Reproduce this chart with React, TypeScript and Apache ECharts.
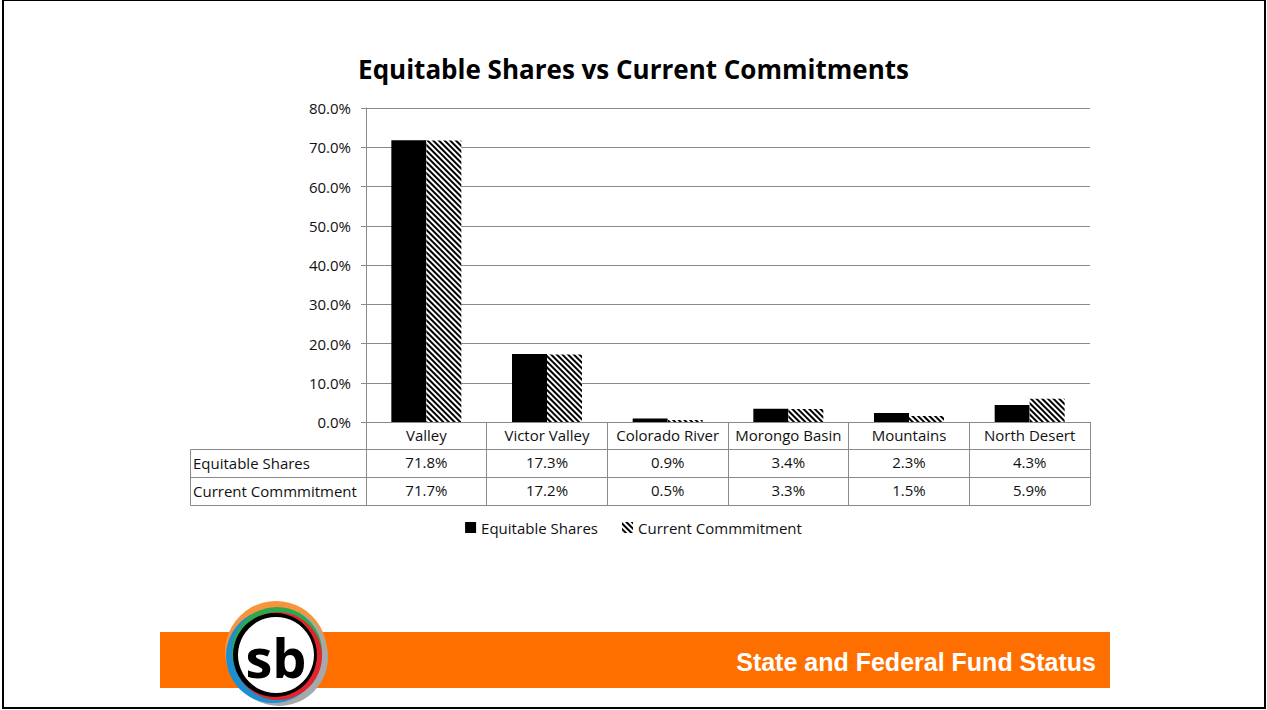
import React, { useEffect, useRef } from "react";
import * as echarts from "echarts";

const categories = ["Valley", "Victor Valley", "Colorado River", "Morongo Basin", "Mountains", "North Desert"];
const equitableShares = [71.8, 17.3, 0.9, 3.4, 2.3, 4.3];
const currentCommitment = [71.7, 17.2, 0.5, 3.3, 1.5, 5.9];
const seriesNames = ["Equitable Shares", "Current Commmitment"];
const yTicks = { min: 0, max: 80, interval: 10 };
const chartTitle = "Equitable Shares vs Current Commitments";
const footerText = "State and Federal Fund Status";

const FONT = "'Open Sans', 'Noto Sans', sans-serif";
const GRAY = "#8a8a8a";
const FS = 15;

export default function App() {
  const ref = useRef<HTMLDivElement>(null);
  useEffect(() => {
    if (!ref.current) return;
    const chart = echarts.init(ref.current, undefined, { renderer: "svg" });
    const fmt = (v: number) => v.toFixed(1) + "%";
    const tableAxis = (offset: number, labels: string[] | null) => ({
      type: "category",
      data: categories.map((c, i) => (labels ? labels[i] : c)),
      position: "bottom",
      offset,
      axisLine: { show: true, lineStyle: { color: GRAY, width: 1 } },
      axisTick: labels === null ? { show: false } : { show: true, length: 28, interval: 0, lineStyle: { color: GRAY } },
      axisLabel: labels === null ? { show: false } : { show: true, interval: 0, margin: 5, fontSize: FS, color: "#111", fontFamily: FONT },
      splitLine: { show: false },
    });
    const hatch = {
      symbol: "rect",
      symbolSize: 1,
      dashArrayX: [1, 0],
      dashArrayY: [2, 2],
      rotation: Math.PI / 4,
      color: "#000",
      backgroundColor: "#fff",
    };
    chart.setOption({
      animation: false,
      backgroundColor: "#fff",
      title: {
        text: chartTitle,
        left: "center",
        top: 51,
        textStyle: { fontSize: 26, fontWeight: "bold", color: "#000", fontFamily: FONT },
      },
      legend: {
        top: 515,
        left: "center",
        itemWidth: 11,
        itemHeight: 11,
        itemGap: 24,
        icon: "rect",
        textStyle: { fontSize: FS, color: "#111", fontFamily: FONT },
        data: seriesNames,
      },
      grid: { left: 366, right: 177, top: 108, bottom: 288, containLabel: false },
      xAxis: [
        {
          type: "category",
          data: categories,
          position: "bottom",
          offset: 0,
          axisLine: { show: true, lineStyle: { color: GRAY, width: 1 } },
          axisTick: { show: true, length: 27, interval: 0, lineStyle: { color: GRAY } },
          axisLabel: { show: true, interval: 0, margin: 5, fontSize: FS, color: "#111", fontFamily: FONT },
        },
        tableAxis(27, equitableShares.map(fmt)),
        tableAxis(55, currentCommitment.map(fmt)),
        tableAxis(83, null),
      ],
      yAxis: {
        type: "value",
        min: yTicks.min,
        max: yTicks.max,
        interval: yTicks.interval,
        axisLine: { show: true, lineStyle: { color: GRAY, width: 1 } },
        axisTick: { show: true, length: 5, lineStyle: { color: GRAY } },
        axisLabel: { formatter: (v: number) => fmt(v), fontSize: FS, color: "#111", margin: 15, fontFamily: FONT },
        splitLine: { show: true, lineStyle: { color: GRAY, width: 1 } },
      },
      series: [
        {
          name: seriesNames[0],
          type: "bar",
          xAxisIndex: 0,
          data: equitableShares,
          barGap: "0%",
          barCategoryGap: "42%",
          itemStyle: { color: "#000" },
        },
        {
          name: seriesNames[1],
          type: "bar",
          xAxisIndex: 0,
          data: currentCommitment,
          barGap: "0%",
          barCategoryGap: "42%",
          itemStyle: { color: "#fff", decal: hatch },
        },
      ],
      graphic: [
        { type: "rect", shape: { x: 3, y: 0, width: 1262, height: 708 }, style: { fill: "none", stroke: "#000", lineWidth: 2 }, silent: true },
        { type: "rect", shape: { x: 190.5, y: 449.5, width: 176, height: 56 }, style: { fill: "none", stroke: GRAY, lineWidth: 1 } },
        { type: "line", shape: { x1: 190.5, y1: 477.5, x2: 366.5, y2: 477.5 }, style: { stroke: GRAY, lineWidth: 1 } },
        { type: "text", x: 193, y: 462.5, style: { text: seriesNames[0], fontSize: FS, fill: "#111", fontFamily: FONT, verticalAlign: "middle" } },
        { type: "text", x: 193, y: 490.5, style: { text: seriesNames[1], fontSize: FS, fill: "#111", fontFamily: FONT, verticalAlign: "middle" } },
        { type: "rect", shape: { x: 160, y: 632, width: 950, height: 56 }, style: { fill: "#FF6F00" } },
        {
          type: "text",
          x: 1096,
          y: 662,
          style: { text: footerText, fontSize: 25, fontWeight: "bold", fill: "#fff", fontFamily: "'Liberation Sans', Arial, sans-serif", align: "right", verticalAlign: "middle" },
        },
        { type: "circle", shape: { cx: 276, cy: 652, r: 51 }, style: { fill: "#F7953D" } },
        { type: "circle", shape: { cx: 279, cy: 657, r: 49 }, style: { fill: "#A6A9AC" } },
        { type: "circle", shape: { cx: 273, cy: 656, r: 47 }, style: { fill: "#1B8FD0" } },
        { type: "circle", shape: { cx: 277, cy: 652, r: 45 }, style: { fill: "#2DA84F" } },
        { type: "circle", shape: { cx: 278, cy: 656, r: 44 }, style: { fill: "#E0262C" } },
        { type: "circle", shape: { cx: 275, cy: 655, r: 42 }, style: { fill: "#000" } },
        { type: "circle", shape: { cx: 276, cy: 655, r: 38 }, style: { fill: "#fff" } },
        {
          type: "text",
          x: 276,
          y: 657,
          style: { text: "sb", fontSize: 54, fontWeight: "bold", fill: "#000", fontFamily: "'Open Sans', sans-serif", align: "center", verticalAlign: "middle" },
        },
      ],
    });
    return () => chart.dispose();
  }, []);
  return <div ref={ref} style={{ position: "fixed", left: 0, top: 0, width: 1267, height: 710 }} />;
}
